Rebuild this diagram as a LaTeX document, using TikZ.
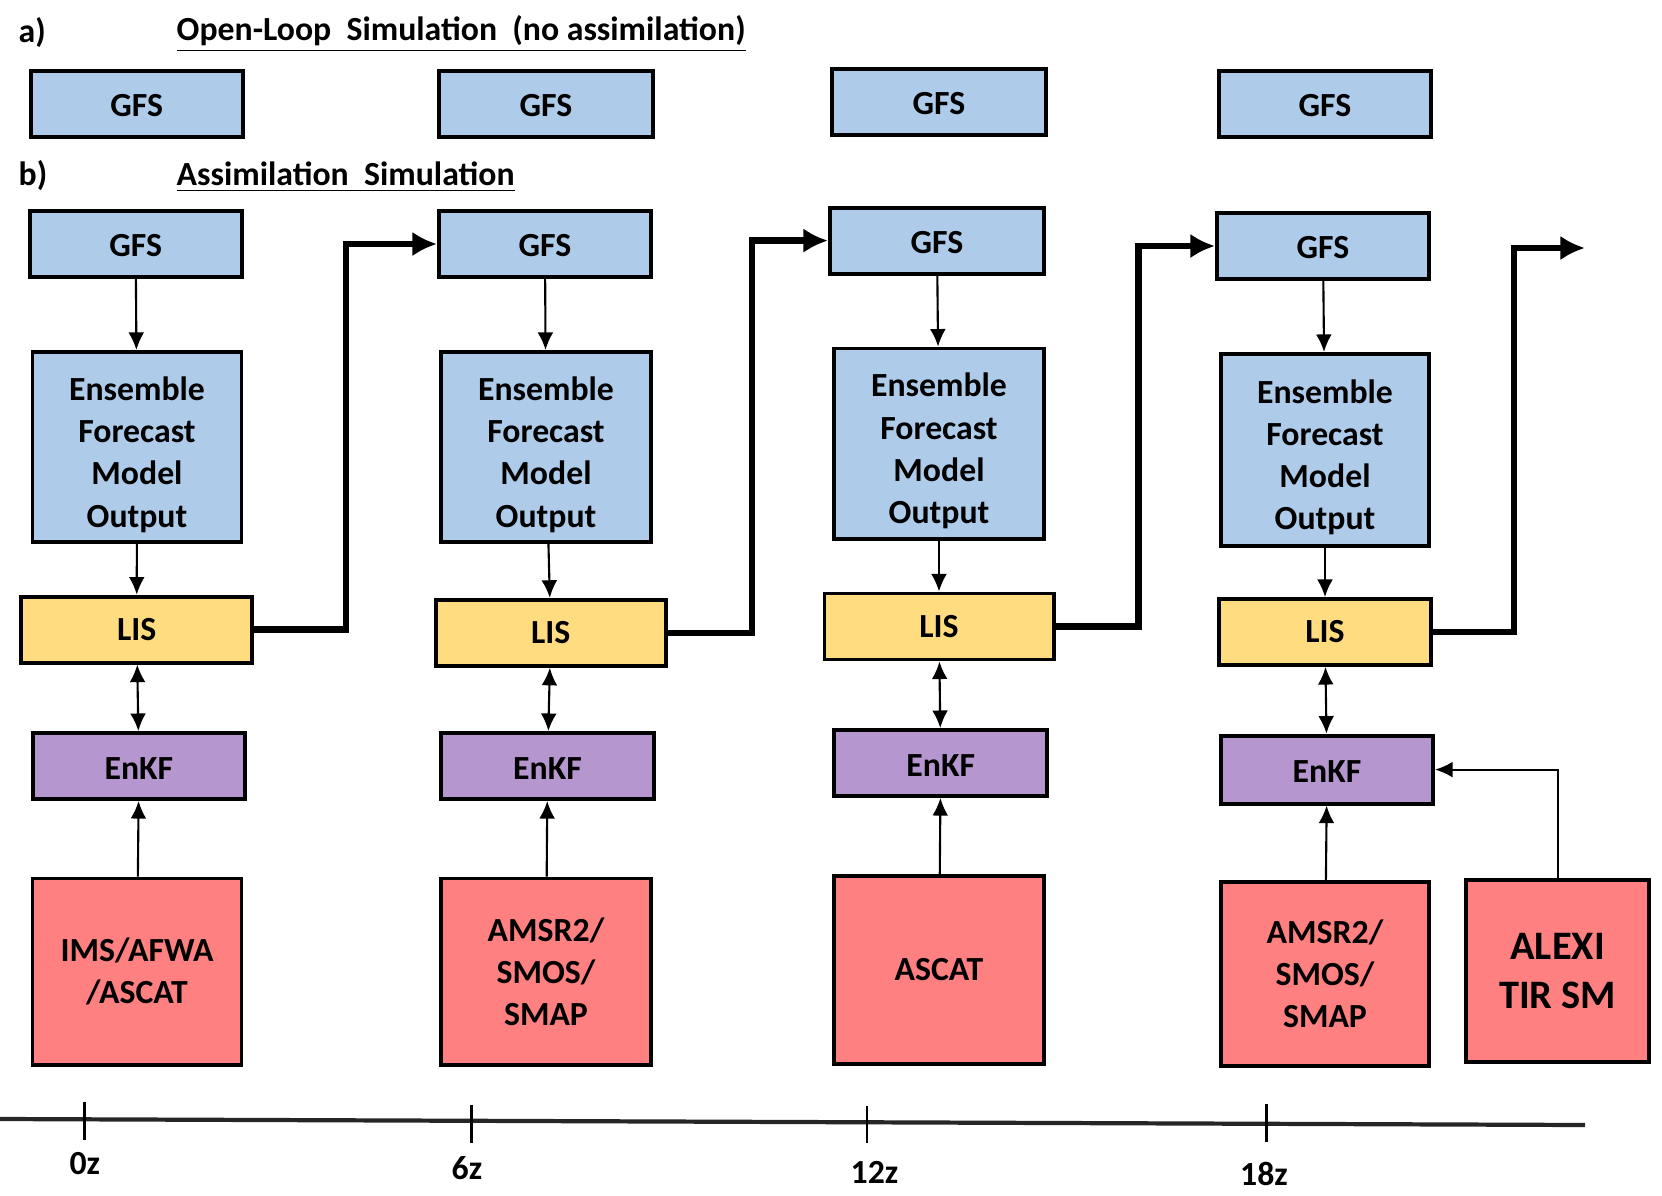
\documentclass[tikz,border=0pt]{standalone}
\usepackage{fontspec}
\setmainfont{Carlito}
\usepackage{xcolor}
\usetikzlibrary{positioning,arrows.meta}
\definecolor{gfsblue}{RGB}{174,204,234}
\definecolor{lisyellow}{RGB}{255,220,128}
\definecolor{enkfpurple}{RGB}{181,150,206}
\definecolor{obsred}{RGB}{255,128,128}
\newcommand{\topgap}{\rule{0pt}{11pt}}
\tikzset{box/.style={draw,line width=1.1pt,inner sep=0pt,align=center,font=\bfseries\fontsize{9.6}{12}\selectfont},
  gfs/.style={box,fill=gfsblue,minimum width=2.12cm,minimum height=0.66cm,execute at begin node=\rule{0pt}{7.4pt}},
  ens/.style={box,fill=gfsblue,minimum width=2.09cm,minimum height=1.9cm},
  lis/.style={box,fill=lisyellow,minimum width=2.31cm,minimum height=0.66cm},
  enkf/.style={box,fill=enkfpurple,minimum width=2.12cm,minimum height=0.66cm,execute at begin node=\rule{0pt}{7.6pt}},
  obs/.style={box,fill=obsred,minimum width=2.09cm,minimum height=1.86cm},
  lbl/.style={inner sep=0pt,font=\bfseries\fontsize{9.6}{12}\selectfont},
  link/.style={line width=0.6pt,-{Latex[length=5pt,width=4.5pt]}},
  twoway/.style={line width=0.6pt,{Latex[length=5pt,width=4.5pt]}-{Latex[length=5pt,width=4.5pt]}},
  flow/.style={line width=1.8pt,-{Latex[length=7pt,width=7pt]}}}

\begin{document}
\begin{tikzpicture}[x=0.01cm,y=-0.01cm]
    \useasboundingbox (0,0) rectangle (1662,1196);

    \node[lbl,anchor=west] (la) at (18,33) {a)};
    \node[lbl,anchor=west] (ta) at (176,34) {\underline{Open-Loop\ \ Simulation\ \ (no assimilation)}};
    \node[lbl,anchor=west] (lb) at (18,176) {b)};
    \node[lbl,anchor=west] (tb) at (176,177) {\underline{Assimilation\ \ Simulation}};

    % open loop
    \node[gfs] (o1) at (136.7,104) {GFS};
    \node[gfs,minimum width=2.14cm] (o2) at (546,104) {GFS};
    \node[gfs,minimum width=2.14cm] (o3) at (939,102) {GFS};
    \node[gfs] (o4) at (1325,104) {GFS};

    % assimilation
    \node[gfs] (g1) at (135.7,244) {GFS};
    \node[gfs] (g2) at (545,244) {GFS};
    \node[gfs,minimum width=2.14cm] (g3) at (937,240.6) {GFS};
    \node[gfs] (g4) at (1323,246) {GFS};

    \node[ens] (e1) at (137,447) {\topgap Ensemble\\Forecast\\Model\\Output};
    \node[ens,minimum width=2.1cm] (e2) at (546,447) {\topgap Ensemble\\Forecast\\Model\\Output};
    \node[ens,minimum width=2.1cm] (e3) at (939,443.6) {\topgap Ensemble\\Forecast\\Model\\Output};
    \node[ens,minimum width=2.08cm,minimum height=1.92cm] (e4) at (1325,450) {\topgap Ensemble\\Forecast\\Model\\Output};

    \node[lis] (l1) at (136.7,629.6) {LIS};
    \node[lis,minimum width=2.3cm] (l2) at (550.7,632.8) {LIS};
    \node[lis,minimum width=2.29cm] (l3) at (939,626.5) {LIS};
    \node[lis,minimum width=2.12cm] (l4) at (1325,632) {LIS};

    \node[enkf] (k1) at (138.9,766) {EnKF};
    \node[enkf,minimum width=2.13cm] (k2) at (547.5,766) {EnKF};
    \node[enkf,minimum width=2.13cm] (k3) at (940.7,763) {EnKF};
    \node[enkf,minimum height=0.68cm] (k4) at (1327,769.6) {EnKF};

    \node[obs] (s1) at (137,971.5) {IMS/AFWA\\/ASCAT};
    \node[obs,minimum width=2.1cm] (s2) at (546,971.5) {AMSR2/\\SMOS/\\SMAP};
    \node[obs,minimum width=2.1cm,minimum height=1.88cm] (s3) at (939,970) {ASCAT};
    \node[obs,minimum width=2.08cm,minimum height=1.84cm] (s4) at (1325,974) {AMSR2/\\SMOS/\\SMAP};
    \node[obs,minimum width=1.83cm,minimum height=1.82cm,font=\bfseries\fontsize{11.5}{14}\selectfont] (s5) at (1557.6,971) {ALEXI\\TIR SM};

    \draw[link] (g1) -- (e1);
    \draw[link] (g2) -- (e2);
    \draw[link] (g3) -- (e3);
    \draw[link] (g4) -- (e4);
    \draw[link] (e1) -- (l1);
    \draw[link] (e2) -- (l2);
    \draw[link] (e3) -- (l3);
    \draw[link] (e4) -- (l4);
    \draw[twoway] (l1) -- (k1);
    \draw[twoway] (l2) -- (k2);
    \draw[twoway] (l3) -- (k3);
    \draw[twoway] (l4) -- (k4);
    \draw[link] (s1) -- (k1);
    \draw[link] (s2) -- (k2);
    \draw[link] (s3) -- (k3);
    \draw[link] (s4) -- (k4);
    \draw[link] (s5.north) |- (k4.east);

    \coordinate (nx) at (1585,248);
    \draw[flow] (l1.east) -- ++(92,0) |- (g2.west);
    \draw[flow] (l2.east) -- ++(84,0) |- (g3.west);
    \draw[flow] (l3.east) -- ++(83,0) |- (g4.west);
    \draw[flow] (l4.east) -- ++(81,0) |- (nx);

    % time axis
    \draw[line width=1.2pt,black!85] (0,1119) -- (1585,1125);
    \draw[line width=0.8pt] (84.8,1102) -- (84.8,1140);
    \draw[line width=0.8pt] (471.7,1105) -- (471.7,1143);
    \draw[line width=0.8pt] (867,1106) -- (867,1143);
    \draw[line width=0.8pt] (1266.7,1104) -- (1266.7,1142);
    \node[lbl] (t0) at (84.8,1164) {0z};
    \node[lbl] (t6) at (467,1168) {6z};
    \node[lbl] (t12) at (874.5,1172) {12z};
    \node[lbl] (t18) at (1264,1174) {18z};
\end{tikzpicture}
\end{document}
